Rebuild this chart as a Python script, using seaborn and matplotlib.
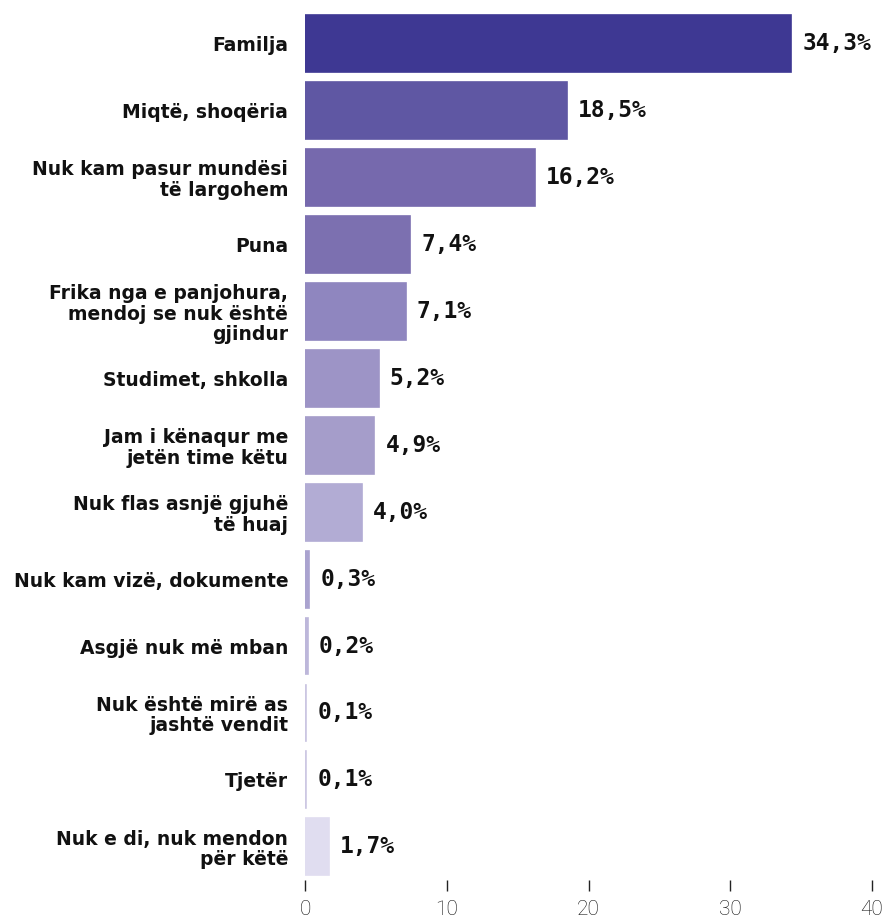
import seaborn as sns
import matplotlib.pyplot as plt
import pandas as pd

categories = [
    "Familja",
    "Miqtë, shoqëria",
    "Nuk kam pasur mundësi\ntë largohem",
    "Puna",
    "Frika nga e panjohura,\nmendoj se nuk është\ngjindur",
    "Studimet, shkolla",
    "Jam i kënaqur me\njetën time këtu",
    "Nuk flas asnjë gjuhë\ntë huaj",
    "Nuk kam vizë, dokumente",
    "Asgjë nuk më mban",
    "Nuk është mirë as\njashtë vendit",
    "Tjetër",
    "Nuk e di, nuk mendon\npër këtë",
]
values = [34.3, 18.5, 16.2, 7.4, 7.1, 5.2, 4.9, 4.0, 0.3, 0.2, 0.1, 0.1, 1.7]
colors = ["#3e3893", "#5f57a3", "#7669ad", "#7c70b0", "#8f86bf", "#9d94c6",
          "#a59dca", "#b2acd4", "#aaa3cf", "#bdb7da", "#cbc6e2", "#cdc8e3",
          "#e0ddf0"]
x_ticks = [0, 10, 20, 30, 40]

df = pd.DataFrame({"category": categories, "value": values})

sns.set_style("white")
plt.rcParams["font.family"] = ["DejaVu Sans"]

fig = plt.figure(figsize=(8.88, 9.17), dpi=100)
ax = fig.add_axes([0.3435, 0.040, 0.6385, 0.949])

sns.barplot(data=df, x="value", y="category", hue="category",
            palette=colors, legend=False, width=0.85, saturation=1, ax=ax)

# thin edge so the tiny 0,1% bars stay visible
for bar in ax.patches:
    bar.set_edgecolor(bar.get_facecolor())
    bar.set_linewidth(1.2)

for bar, v in zip(ax.patches, values):
    y = bar.get_y() + bar.get_height() / 2
    ax.annotate(f"{v:.1f}%".replace(".", ","), xy=(bar.get_width(), y),
                xytext=(8, 0), textcoords="offset points",
                ha="left", va="center", fontsize=16.5, fontweight="bold",
                family="DejaVu Sans Mono", color="#111111")

ax.set_xlim(0, 40)
ax.set_xticks(x_ticks)
ax.set_xlabel("")
ax.set_ylabel("")
for s in ax.spines.values():
    s.set_visible(False)
ax.tick_params(axis="x", direction="out", length=8, width=1, color="#222222",
               pad=6, labelsize=15, labelcolor="#111111", bottom=True)
for t in ax.get_xticklabels():
    t.set_fontweight("light")
    t.set_family("Roboto")
ax.tick_params(axis="y", length=0, pad=12)
ax.set_yticks(range(len(categories)))
ax.set_yticklabels(categories, fontsize=13.5, fontweight="bold", color="#111111",
                   linespacing=1.1, multialignment="right")

fig.savefig("out.png", dpi=100)
